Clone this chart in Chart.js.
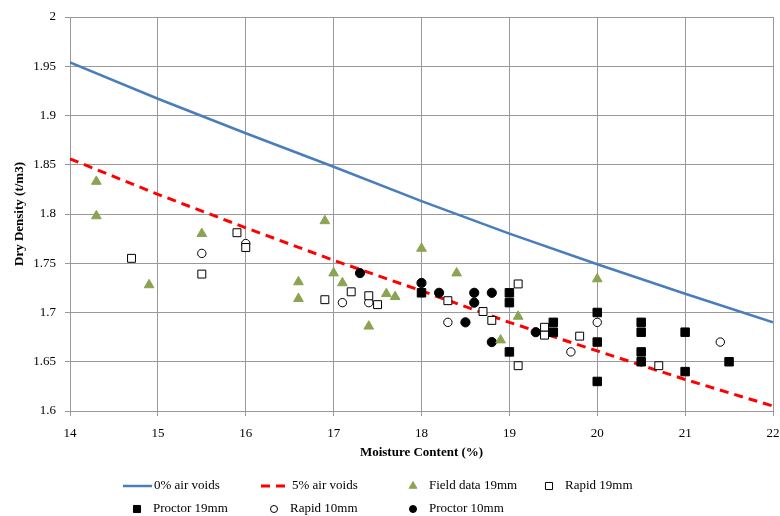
<!DOCTYPE html>
<html lang="en">
<head>
<meta charset="UTF-8">
<title>Dry Density vs Moisture Content</title>
<style>
    body { margin: 0; padding: 0; background: #fff; }
    #wrap { width: 780px; height: 516px; position: relative; }
</style>
</head>
<body>
<div id="wrap"><canvas id="chart" width="780" height="516"></canvas></div>
<script src="https://cdn.jsdelivr.net/npm/chart.js"></script>
<script>
    // Air void lines
    const voidMoisture = [14, 15, 16, 17, 18, 19, 20, 21, 22];
    const voids0 = [1.954, 1.917, 1.882, 1.848, 1.813, 1.780, 1.749, 1.719, 1.690];
    const voids5 = [1.856, 1.820, 1.786, 1.753, 1.722, 1.690, 1.661, 1.632, 1.605];

    // Field data 19mm
    const fieldX = [14.3, 14.3, 14.9, 15.5, 16.6, 16.6, 16.9, 17.0, 17.1, 17.4, 17.6, 17.7, 18.0, 18.4, 18.9, 19.1, 20.0];
    const fieldY = [1.833, 1.798, 1.728, 1.780, 1.731, 1.714, 1.793, 1.740, 1.730, 1.686, 1.719, 1.716, 1.765, 1.740, 1.672, 1.696, 1.734];

    // Rapid 19mm
    const rapid19X = [14.7, 15.5, 15.9, 16.0, 16.9, 17.2, 17.4, 17.5, 18.3, 18.7, 18.8, 19.1, 19.1, 19.4, 19.4, 19.8, 20.7];
    const rapid19Y = [1.755, 1.739, 1.781, 1.766, 1.713, 1.721, 1.717, 1.708, 1.712, 1.701, 1.692, 1.729, 1.646, 1.685, 1.677, 1.676, 1.646];

    // Proctor 19mm
    const proctor19X = [18.0, 19.0, 19.0, 19.0, 19.5, 19.5, 20.0, 20.0, 20.0, 20.5, 20.5, 20.5, 20.5, 21.0, 21.0, 21.5];
    const proctor19Y = [1.72, 1.72, 1.71, 1.66, 1.69, 1.68, 1.70, 1.67, 1.63, 1.69, 1.68, 1.66, 1.65, 1.68, 1.64, 1.65];

    // Rapid 10mm
    const rapid10X = [15.5, 16.0, 17.1, 17.4, 18.3, 19.7, 20.0, 21.4];
    const rapid10Y = [1.76, 1.77, 1.71, 1.71, 1.69, 1.66, 1.69, 1.67];

    // Proctor 10mm
    const proctor10X = [17.3, 18.0, 18.2, 18.5, 18.6, 18.6, 18.8, 18.8, 19.3];
    const proctor10Y = [1.74, 1.73, 1.72, 1.69, 1.72, 1.71, 1.72, 1.67, 1.68];

    const serif = "'Liberation Serif', 'Times New Roman', serif";
    const green = '#8aa453';

    function pts(xs, ys) {
        return xs.map((x, i) => ({ x: x, y: ys[i] }));
    }

    const datasets = [
        {
            label: '0% air voids', data: pts(voidMoisture, voids0), showLine: true,
            borderColor: '#4a7ebb', borderWidth: 2.5, pointRadius: 0, order: 10
        },
        {
            label: '5% air voids', data: pts(voidMoisture, voids5), showLine: true,
            borderColor: '#ff0000', borderWidth: 3, borderDash: [9, 6], pointRadius: 0, order: 10
        },
        {
            label: 'Field data 19mm', data: pts(fieldX, fieldY), pointStyle: 'triangle',
            pointRadius: 5.6, backgroundColor: green, borderColor: green, borderWidth: 1
        },
        {
            label: 'Rapid 19mm', data: pts(rapid19X, rapid19Y), pointStyle: 'rect',
            pointRadius: 5.6, backgroundColor: '#fff', borderColor: '#000', borderWidth: 1
        },
        {
            label: 'Proctor 19mm', data: pts(proctor19X, proctor19Y), pointStyle: 'rect',
            pointRadius: 6, backgroundColor: '#000', borderColor: '#000', borderWidth: 1
        },
        {
            label: 'Rapid 10mm', data: pts(rapid10X, rapid10Y), pointStyle: 'circle',
            pointRadius: 4.2, backgroundColor: '#fff', borderColor: '#000', borderWidth: 1
        },
        {
            label: 'Proctor 10mm', data: pts(proctor10X, proctor10Y), pointStyle: 'circle',
            pointRadius: 4.6, backgroundColor: '#000', borderColor: '#000', borderWidth: 1
        }
    ];

    // Legend laid out in a grid like the original
    const legendSlots = [
        { ds: 0, x: 123, y: 486, kind: 'line' },
        { ds: 1, x: 261, y: 486, kind: 'line' },
        { ds: 2, x: 413, y: 486, kind: 'point' },
        { ds: 3, x: 549, y: 486, kind: 'point' },
        { ds: 4, x: 137, y: 509, kind: 'point' },
        { ds: 5, x: 274, y: 509, kind: 'point' },
        { ds: 6, x: 413, y: 509, kind: 'point' }
    ];

    const gridLegend = {
        id: 'gridLegend',
        afterDraw(chart) {
            const ctx = chart.ctx;
            ctx.save();
            ctx.font = '13px ' + serif;
            ctx.textBaseline = 'middle';
            ctx.fillStyle = '#000';
            legendSlots.forEach(s => {
                const d = chart.data.datasets[s.ds];
                let textX;
                if (s.kind === 'line') {
                    ctx.save();
                    ctx.strokeStyle = d.borderColor;
                    ctx.lineWidth = d.borderWidth;
                    ctx.setLineDash(d.borderDash || []);
                    ctx.beginPath();
                    ctx.moveTo(s.x, s.y);
                    ctx.lineTo(s.x + 29, s.y);
                    ctx.stroke();
                    ctx.restore();
                    textX = s.x + 31;
                } else {
                    ctx.save();
                    ctx.fillStyle = d.backgroundColor;
                    ctx.strokeStyle = d.borderColor;
                    ctx.lineWidth = 1;
                    const r = d.pointStyle === 'circle' ? 3.5 : (d.pointStyle === 'rect' ? 5 : 4.5);
                    Chart.helpers.drawPoint(ctx, {
                        pointStyle: d.pointStyle, radius: r, rotation: 0, borderWidth: 1
                    }, s.x, s.y);
                    ctx.restore();
                    textX = s.x + 16;
                }
                ctx.fillStyle = '#000';
                ctx.fillText(d.label, textX, s.y);
            });
            ctx.restore();
        }
    };

    new Chart(document.getElementById('chart'), {
        type: 'scatter',
        data: { datasets: datasets },
        options: {
            responsive: false,
            animation: false,
            layout: { padding: { top: 17, right: 7, bottom: 0, left: 0 } },
            plugins: { legend: { display: false }, tooltip: { enabled: false } },
            scales: {
                x: {
                    type: 'linear', min: 14, max: 22,
                    afterFit(scale) {
                        scale.height = 105;
                        scale.paddingRight = 7;
                        scale.paddingLeft = 0;
                    },
                    ticks: { stepSize: 1, color: '#000', padding: 10, font: { family: serif, size: 13 } },
                    grid: { color: '#999', lineWidth: 1, tickLength: 5 },
                    border: { color: '#999' },
                    title: {
                        display: true, text: 'Moisture Content (%)', color: '#000',
                        font: { family: serif, size: 13, weight: 'bold' },
                        padding: { top: 4, bottom: 56 }
                    }
                },
                y: {
                    type: 'linear', min: 1.6, max: 2,
                    afterFit(scale) { scale.width = 70; },
                    ticks: {
                        stepSize: 0.05, color: '#000', padding: 9,
                        font: { family: serif, size: 13 },
                        callback: v => String(Number(v.toFixed(2)))
                    },
                    grid: { color: '#999', lineWidth: 1, tickLength: 5 },
                    border: { color: '#999' },
                    title: {
                        display: true, text: 'Dry Density (t/m3)', color: '#000',
                        font: { family: serif, size: 13, weight: 'bold' },
                        padding: { top: 12, bottom: 0 }
                    }
                }
            }
        },
        plugins: [gridLegend]
    });
</script>
</body>
</html>
